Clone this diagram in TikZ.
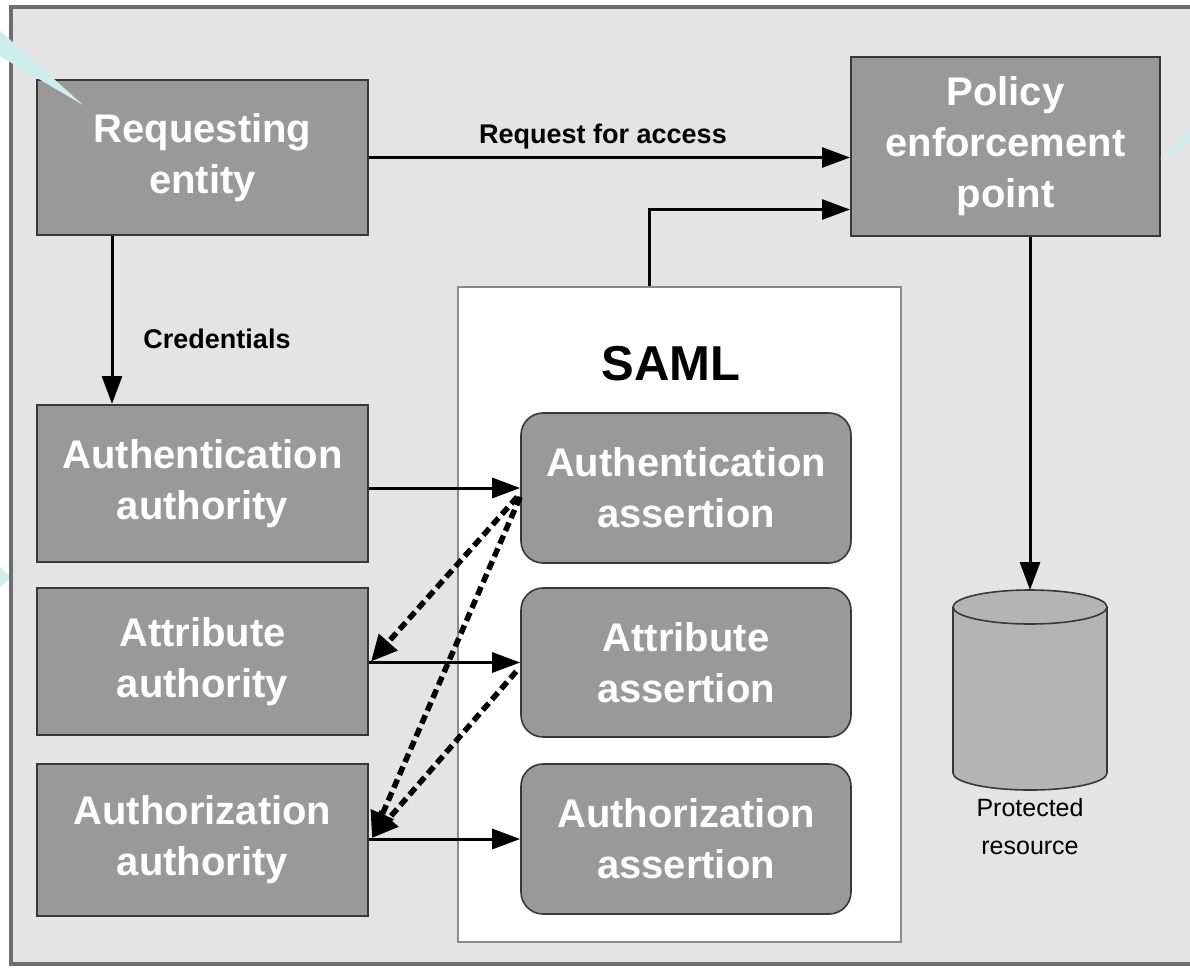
\documentclass[tikz,border=0pt]{standalone}
\usepackage{fontspec}
\setmainfont{Liberation Sans}
\usetikzlibrary{arrows.meta,calc}
\definecolor{panelfill}{HTML}{E4E4E4}
\definecolor{panelline}{HTML}{6E6E6E}
\definecolor{boxfill}{HTML}{999999}
\definecolor{boxline}{HTML}{383838}
\definecolor{dbfill}{HTML}{B4B4B4}
\definecolor{calloutc}{HTML}{CDEEEC}
\definecolor{samlline}{HTML}{8A8A8A}
\begin{document}
\begin{tikzpicture}[x=1pt,y=-1pt,
  graybox/.style={draw=boxline, line width=2pt, fill=boxfill, text=white,
    font=\bfseries\fontsize{40}{51}\selectfont, align=center, inner sep=0pt},
  roundbox/.style={graybox, rounded corners=22pt, line width=1.6pt},
  arr/.style={line width=3pt, -{Triangle[length=28pt,width=20pt]}},
  darr/.style={line width=5.5pt, dash pattern=on 9pt off 5pt,
    -{Triangle[length=26pt,width=24pt]}},
  lbl/.style={font=\bfseries\fontsize{27}{32}\selectfont, inner sep=0pt},
  callout/.style={fill=calloutc}
]
\useasboundingbox (0,0) rectangle (1190,967);
\clip (0,0) rectangle (1190,967);
\fill[white] (0,0) rectangle (1190,967);
% left callout tip (behind panel)
\fill[callout] (-2,565) -- (11,577) -- (-2,589) -- cycle;
% panel
\draw[fill=panelfill, draw=panelline, line width=3.5pt] (11,7) rectangle (1210,964);
% SAML container
\node[draw=samlline, fill=white, line width=1.6pt, minimum width=443pt,
  minimum height=655pt, inner sep=0pt] (saml) at (679.5,614.5) {};
\node[font=\bfseries\fontsize{49}{55}\selectfont, anchor=base, inner sep=0pt]
  (samltitle) at (671,380) {SAML};
% boxes
\node[graybox, minimum width=331pt, minimum height=155pt] (re) at (202.5,157.5) {Requesting\\entity};
\node[graybox, minimum width=309pt, minimum height=179pt] (pep) at (1005.5,146.5) {Policy\\enforcement\\point};
\node[graybox, minimum width=331pt, minimum height=157pt] (aa) at (202.5,483.5) {Authentication\\authority};
\node[graybox, minimum width=331pt, minimum height=147pt] (ata) at (202.5,661.5) {Attribute\\authority};
\node[graybox, minimum width=331pt, minimum height=152pt] (aza) at (202.5,840) {Authorization\\authority};
\node[roundbox, minimum width=330pt, minimum height=150pt] (asa) at (686,488) {Authentication\\assertion};
\node[roundbox, minimum width=330pt, minimum height=149pt] (ats) at (686,662.5) {Attribute\\assertion};
\node[roundbox, minimum width=330pt, minimum height=150pt] (azs) at (686,839) {Authorization\\assertion};
% protected resource cylinder
\coordinate (dbtop) at (1030,590);
\fill[dbfill] (953,607) -- (953,773)
  arc[start angle=180, end angle=360, x radius=77pt, y radius=17pt]
  -- (1107,607)
  arc[start angle=0, end angle=180, x radius=77pt, y radius=17pt] -- cycle;
\draw[boxline, line width=1.6pt] (953,607) -- (953,773)
  arc[start angle=180, end angle=360, x radius=77pt, y radius=17pt]
  -- (1107,607);
\draw[boxline, line width=1.6pt] (1030,607) ellipse[x radius=77pt, y radius=17pt];
\node[font=\fontsize{25}{38}\selectfont, align=center, inner sep=0pt, anchor=north]
  (prot) at (1030,798) {Protected\\resource};
% connectors
\draw[arr] (re.east) -- (re.east -| pep.west);
\node[lbl, anchor=base] (reqlbl) at (603,143) {Request for access};
\draw[arr] ($(re.south west)+(76,0)$) -- ($(aa.north west)+(76,0)$);
\node[lbl, anchor=base] (credlbl) at (217,348) {Credentials};
\draw[arr] ($(saml.north west)+(192,0)$) |- ($(pep.west)+(0,63)$);
\draw[arr] (pep.south -| dbtop) -- (dbtop);
\draw[arr] (aa.east |- asa.west) -- (asa.west);
\draw[arr] (ata.east |- ats.west) -- (ats.west);
\draw[arr] (aza.east |- azs.west) -- (azs.west);
% dashed
\draw[darr] ($(asa.west)+(-3,9)$) -- ($(ata.east)+(2,0)$);
\draw[darr] ($(asa.west)+(0,9)$) -- ($(aza.east)+(3,-2)$);
\draw[darr] ($(ats.west)+(-4,9)$) -- ($(aza.east)+(3,-2)$);
% callout tips
\fill[callout] (-2,29) -- (83,105) -- (-2,55) -- cycle;
\fill[callout] (1160,159) -- (1195,124) -- (1195,140) -- cycle;
\end{tikzpicture}
\end{document}
